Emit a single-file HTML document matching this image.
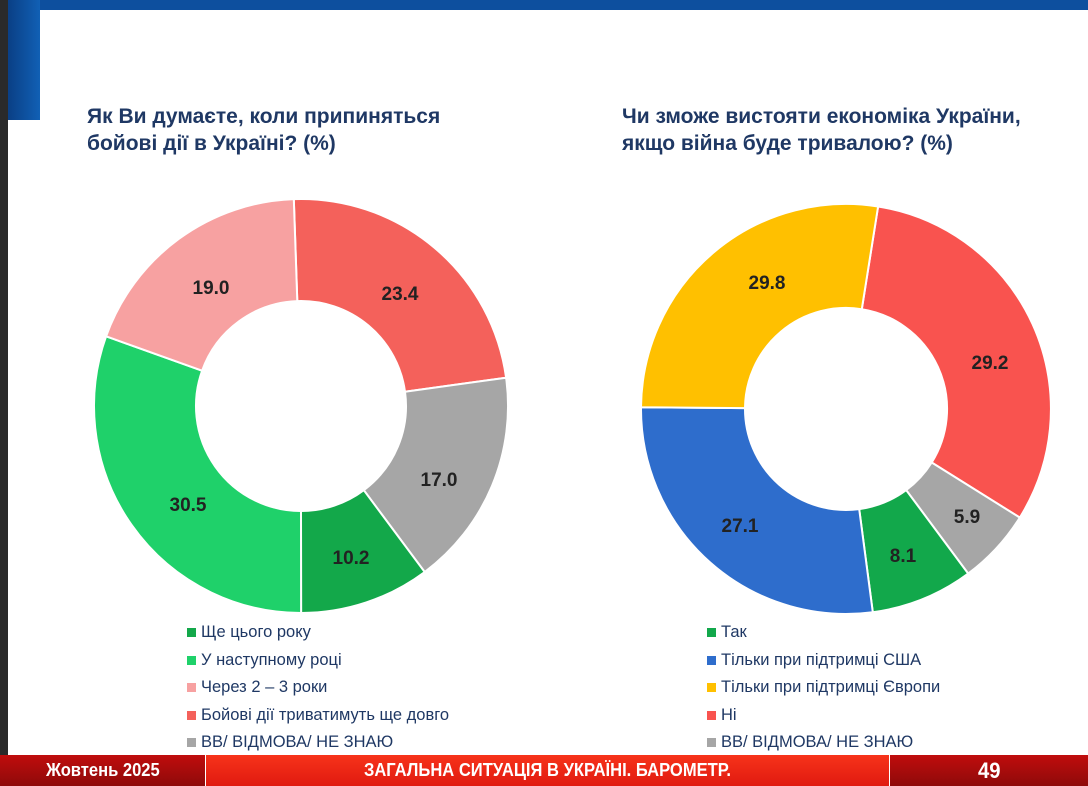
<!DOCTYPE html>
<html><head><meta charset="utf-8"><style>
body{margin:0;width:1088px;height:786px;overflow:hidden;background:#fff;font-family:"Liberation Sans",sans-serif;position:relative}
.t{position:absolute;color:#1f3864;font-weight:bold;font-size:21px;line-height:27px}
.lg{position:absolute;font-size:16.5px;color:#1f3864;line-height:27.5px}
.lg div{position:relative;padding-left:14px}
.lg span{position:absolute;left:0;top:9px;width:9px;height:9px}
.f{position:absolute;top:755px;height:31px;color:#fff;font-weight:bold;display:flex;align-items:center;justify-content:center}
.f b{display:inline-block;transform:scaleX(0.92)}
</style></head><body>
<div style="position:absolute;left:0;top:0;width:8px;height:786px;background:#2a2a2a"></div>
<div style="position:absolute;left:8px;top:0;width:1080px;height:10px;background:#0d4f9e"></div>
<div style="position:absolute;left:8px;top:0;width:32px;height:120px;background:linear-gradient(90deg,#0a3f85,#1160b5)"></div>
<div class="t" style="left:87px;top:103px">Як Ви думаєте, коли припиняться<br>бойові дії в Україні? (%)</div>
<div class="t" style="left:622px;top:103px">Чи зможе вистояти економіка України,<br>якщо війна буде тривалою? (%)</div>
<svg width="1088" height="786" style="position:absolute;left:0;top:0" font-family="Liberation Sans" font-weight="bold" font-size="19" fill="#222">
<g id="d1" stroke="#fff" stroke-width="2"></g>
<g id="d2" stroke="#fff" stroke-width="2"></g>
<text x="211" y="294" text-anchor="middle">19.0</text>
<text x="400" y="300" text-anchor="middle">23.4</text>
<text x="439" y="486" text-anchor="middle">17.0</text>
<text x="351" y="564" text-anchor="middle">10.2</text>
<text x="188" y="511" text-anchor="middle">30.5</text>
<text x="767" y="289" text-anchor="middle">29.8</text>
<text x="990" y="369" text-anchor="middle">29.2</text>
<text x="967" y="523" text-anchor="middle">5.9</text>
<text x="903" y="562" text-anchor="middle">8.1</text>
<text x="740" y="532" text-anchor="middle">27.1</text>
</svg>
<script>
function donut(id,cx,cy,R,r,angs,cols){var g=document.getElementById(id),h='';
function p(rad,ang){var t=(ang-90)*Math.PI/180;return (cx+rad*Math.cos(t)).toFixed(1)+' '+(cy+rad*Math.sin(t)).toFixed(1);}
for(var i=0;i<cols.length;i++){var a=angs[i],b=angs[i+1],l=(b-a)>180?1:0;
h+='<path fill="'+cols[i]+'" d="M'+p(R,a)+' A'+R+' '+R+' 0 '+l+' 1 '+p(R,b)+' L'+p(r,b)+' A'+r+' '+r+' 0 '+l+' 0 '+p(r,a)+'Z"/>';}
g.innerHTML=h;}
function cum(s,v){var t=v.reduce((x,y)=>x+y,0),o=[s];v.forEach(x=>o.push(o[o.length-1]+x/t*360));return o;}
donut('d1',301,406,207,105,cum(-2,[23.4,17.0,10.2,30.5,19.0]),['#f4615b','#a6a6a6','#13a84a','#1fd16a','#f7a1a1']);
donut('d2',846,409,205,101,[9,122,143.4,172.5,270.5,369],['#f9534f','#a6a6a6','#12a84b','#2e6dcc','#ffc000']);
</script>
<div class="lg" style="left:187px;top:619px">
<div><span style="background:#13a84a"></span>Ще цього року</div>
<div><span style="background:#1fd16a"></span>У наступному році</div>
<div><span style="background:#f7a1a1"></span>Через 2 – 3 роки</div>
<div><span style="background:#f4615b"></span>Бойові дії триватимуть ще довго</div>
<div><span style="background:#a6a6a6"></span>ВВ/ ВІДМОВА/ НЕ ЗНАЮ</div>
</div>
<div class="lg" style="left:707px;top:619px">
<div><span style="background:#12a84b"></span>Так</div>
<div><span style="background:#2e6dcc"></span>Тільки при підтримці США</div>
<div><span style="background:#ffc000"></span>Тільки при підтримці Європи</div>
<div><span style="background:#f9534f"></span>Ні</div>
<div><span style="background:#a6a6a6"></span>ВВ/ ВІДМОВА/ НЕ ЗНАЮ</div>
</div>
<div class="f" style="left:0;width:205px;background:linear-gradient(#c00d0d,#8e0a0a);font-size:18px"><b>Жовтень 2025</b></div>
<div class="f" style="left:206px;width:683px;background:linear-gradient(#f7331a,#e01a10);font-size:18px"><b>ЗАГАЛЬНА СИТУАЦІЯ В УКРАЇНІ. БАРОМЕТР.</b></div>
<div class="f" style="left:890px;width:198px;background:linear-gradient(#c00d0d,#8e0a0a);font-size:22px"><b>49</b></div>
</body></html>
